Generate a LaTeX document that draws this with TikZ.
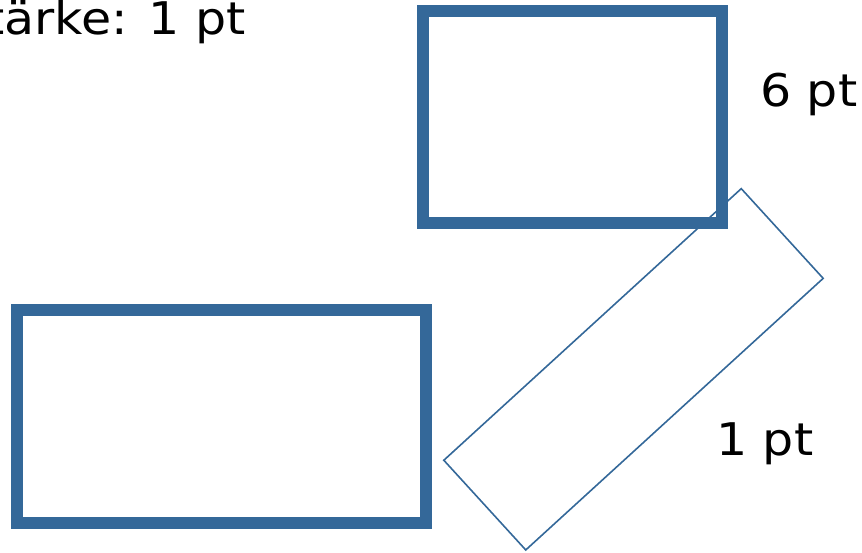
\documentclass[tikz,border=0pt]{standalone}
\usepackage{fontspec}
\setmainfont[FakeStretch=1.09]{DejaVu Sans}
\definecolor{frameblue}{RGB}{52,104,153}
\begin{document}
\begin{tikzpicture}[x=1pt,y=-1pt,
  label/.style={inner sep=0pt,font=\fontsize{45}{54}\selectfont,anchor=base west},
  thickbox/.style={draw=frameblue,line width=12pt,inner sep=0pt},
  thinbox/.style={draw=frameblue,line width=1.6pt,inner sep=0pt}]
\useasboundingbox (0,0) rectangle (862,552);
\clip (0,0) rectangle (862,552);
% thin tilted rectangle, underneath the thick one
\node[thinbox,minimum width=402.8pt,minimum height=121.5pt,rotate=42.4] (tilted) at (633.5,369.3) {};
% thick rectangles
\node[thickbox,minimum width=299.3pt,minimum height=212pt] (upper) at (572.3,116.7) {};
\node[thickbox,minimum width=409.3pt,minimum height=212.5pt] (lower) at (221.3,416.3) {};
% labels
\node[label,anchor=base east] (caption) at (246,34) {Stärke: 1 pt};
\node[label] (six) at (760,106) {6 pt};
\node[label] (one) at (716,455) {1 pt};
\end{tikzpicture}
\end{document}
